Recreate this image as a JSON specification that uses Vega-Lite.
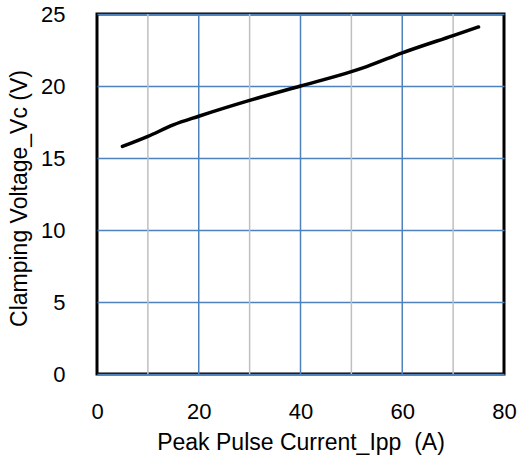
{
  "$schema": "https://vega.github.io/schema/vega-lite/v6.json",
  "width": 407,
  "height": 360,
  "autosize": "none",
  "padding": {"left": 97, "top": 14, "right": 14, "bottom": 89},
  "background": "white",
  "config": {
    "font": "Liberation Sans",
    "view": {"stroke": "black", "strokeWidth": 3},
    "axis": {
      "labelFont": "Liberation Sans",
      "titleFont": "Liberation Sans",
      "labelFontSize": 22,
      "titleFontSize": 23,
      "labelColor": "black",
      "titleColor": "black",
      "titleFontWeight": "normal",
      "ticks": false,
      "domain": false,
      "labelFlush": false
    }
  },
  "datasets": {
    "curve": [
      {"ipp": 5, "vc": 15.8},
      {"ipp": 10, "vc": 16.5},
      {"ipp": 15, "vc": 17.3},
      {"ipp": 20, "vc": 17.9},
      {"ipp": 30, "vc": 19.0},
      {"ipp": 40, "vc": 20.0},
      {"ipp": 50, "vc": 21.0},
      {"ipp": 53, "vc": 21.35},
      {"ipp": 60, "vc": 22.3},
      {"ipp": 70, "vc": 23.5},
      {"ipp": 75, "vc": 24.1}
    ],
    "grayGrid": [{"g": 10}, {"g": 30}, {"g": 50}, {"g": 70}],
    "blueGrid": [{"g": 20}, {"g": 40}, {"g": 60}]
  },
  "layer": [
    {
      "data": {"name": "grayGrid"},
      "mark": {"type": "rule", "color": "#bfbfbf", "strokeWidth": 1.5},
      "encoding": {
        "x": {"field": "g", "type": "quantitative", "scale": {"domain": [0, 80], "nice": false}}
      }
    },
    {
      "data": {"name": "blueGrid"},
      "mark": {"type": "rule", "color": "#4f81bd", "strokeWidth": 1.5},
      "encoding": {
        "x": {"field": "g", "type": "quantitative"}
      }
    },
    {
      "data": {"name": "curve"},
      "mark": {"type": "line", "color": "black", "strokeWidth": 3.5, "interpolate": "monotone", "strokeCap": "round"},
      "encoding": {
        "x": {
          "field": "ipp", "type": "quantitative",
          "scale": {"domain": [0, 80], "nice": false},
          "axis": {"values": [0, 20, 40, 60, 80], "grid": false, "title": "Peak Pulse Current_Ipp\u00a0 (A)", "labelPadding": 27, "titlePadding": 9}
        },
        "y": {
          "field": "vc", "type": "quantitative",
          "scale": {"domain": [0, 25], "nice": false},
          "axis": {"values": [0, 5, 10, 15, 20, 25], "grid": true, "gridColor": "#4f81bd", "gridWidth": 1.5, "gridOpacity": 1, "title": "Clamping Voltage_Vc (V)", "labelPadding": 32, "titlePadding": 9, "titleY": 184}
        }
      }
    }
  ]
}
